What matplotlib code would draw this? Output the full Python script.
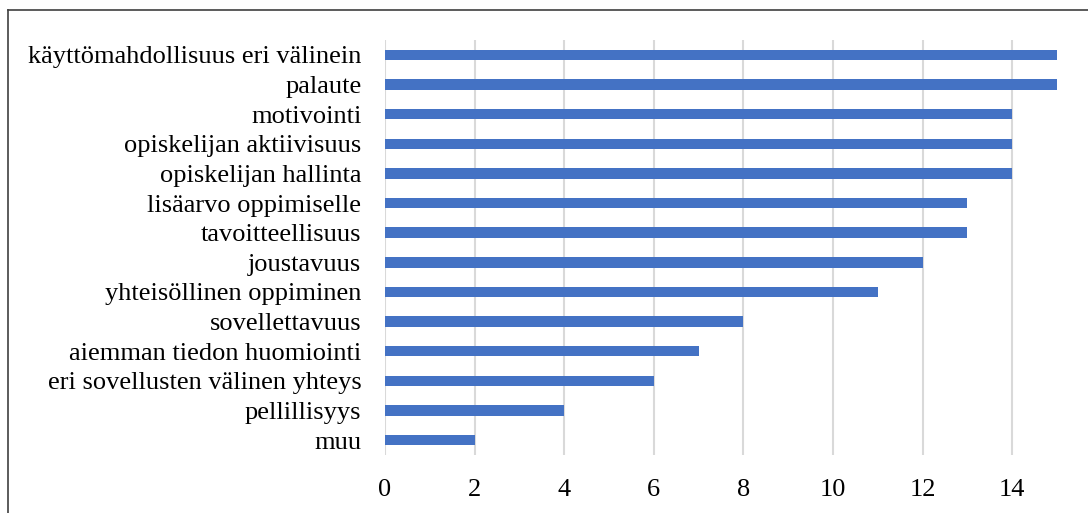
import matplotlib.pyplot as plt
from matplotlib.lines import Line2D

categories = ['käyttömahdollisuus eri välinein', 'palaute', 'motivointi',
              'opiskelijan aktiivisuus', 'opiskelijan hallinta',
              'lisäarvo oppimiselle', 'tavoitteellisuus', 'joustavuus',
              'yhteisöllinen oppiminen', 'sovellettavuus',
              'aiemman tiedon huomiointi', 'eri sovellusten välinen yhteys',
              'pellillisyys', 'muu']
values = [15, 15, 14, 14, 14, 13, 13, 12, 11, 8, 7, 6, 4, 2]
xticks = [0, 2, 4, 6, 8, 10, 12, 14]

plt.rcParams['font.family'] = ['Liberation Serif', 'DejaVu Serif']

fig = plt.figure(figsize=(10.88, 5.13), dpi=100)
ax = fig.add_axes([385 / 1088, 1 - 455 / 513, 672 / 1088, 415 / 513])

pos = list(range(len(categories)))[::-1]
ax.barh(pos, values, height=0.35, color='#4472C4', zorder=3)

ax.set_xlim(0, 15)
ax.set_ylim(-0.5, len(categories) - 0.5)
ax.set_xticks(xticks)
ax.set_yticks(pos)
ax.set_yticklabels(categories)
ax.tick_params(axis='both', length=0, labelsize=19, colors='#000000')
ax.tick_params(axis='x', pad=17.5)
ax.tick_params(axis='y', pad=17)
ax.grid(axis='x', color='#D9D9D9', linewidth=1.5, zorder=0)
for s in ax.spines.values():
    s.set_visible(False)

# outer frame (only top and left visible in the crop)
fig.add_artist(Line2D([8 / 1088, 1.0], [1 - 10 / 513, 1 - 10 / 513],
                      transform=fig.transFigure, color='#404040', linewidth=1.2))
fig.add_artist(Line2D([8 / 1088, 8 / 1088], [0, 1 - 10 / 513],
                      transform=fig.transFigure, color='#404040', linewidth=1.2))

fig.savefig('out.png', dpi=100)
